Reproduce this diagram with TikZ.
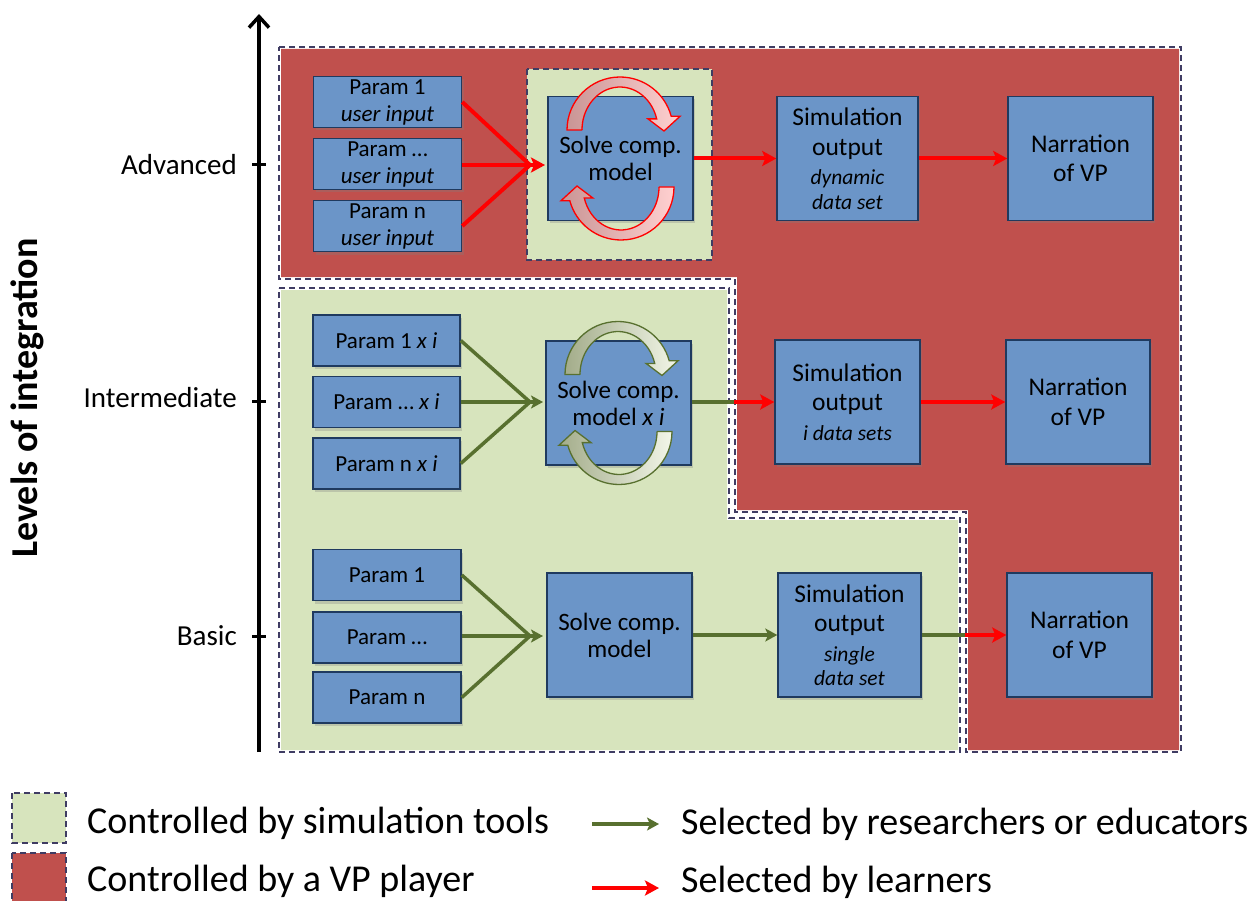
\documentclass[tikz,border=0pt]{standalone}
\usepackage{fontspec}
\setmainfont{Carlito}
\usetikzlibrary{arrows.meta,shadows}
\definecolor{regred}{HTML}{C0504D}
\definecolor{reggreen}{HTML}{D7E4BD}
\definecolor{boxblue}{HTML}{6B95C8}
\definecolor{boxline}{HTML}{1F3A5F}
\definecolor{dashc}{HTML}{3F3C63}
\definecolor{olivec}{HTML}{58702F}
\definecolor{arrred}{HTML}{FF0000}
\definecolor{pinkdark}{HTML}{C99595}
\definecolor{pinklight}{HTML}{FFD0D0}
\definecolor{olivedark}{HTML}{A3AC8A}
\definecolor{olivelight}{HTML}{F2F6E8}

\tikzset{
  blk/.style={draw=boxline, line width=1.5pt, fill=boxblue, align=center, inner sep=0pt,
    drop shadow={shadow xshift=2pt, shadow yshift=-3pt, opacity=0.3}},
  pblk/.style={blk, minimum width=148pt, minimum height=51pt, font=\fontsize{23}{27}\selectfont},
  bblk/.style={blk, minimum width=145pt, minimum height=124pt, font=\fontsize{25.5}{29.5}\selectfont},
  halo/.style={draw=white, line width=5pt},
  dashb/.style={draw=dashc, line width=1.6pt, dash pattern=on 6pt off 4pt},
  redarrow/.style={draw=arrred, line width=4pt, -{Stealth[length=14pt,width=15pt,inset=3pt]}},
  redline/.style={draw=arrred, line width=4pt},
  grarrow/.style={draw=olivec, line width=3.5pt, -{Stealth[length=12pt,width=13pt,inset=3pt]}},
  grline/.style={draw=olivec, line width=3.5pt},
  lvl/.style={font=\fontsize{29}{33}\selectfont, anchor=east, inner sep=0pt},
  legtext/.style={font=\fontsize{38}{42}\selectfont, anchor=base west, inner sep=0pt},
}

\newcommand\cycarr[5]{%
  \begin{scope}[shift={(#1)}, rotate=#2]
    \path[draw=#3, line width=1.3pt, left color=#4, right color=#5]
      (-38,0) -- (-53,0) arc[start angle=180, end angle=15, x radius=53, y radius=53]
      -- (60,13.7) -- (44,-1) -- (28,11.1) -- (36.7,11.1)
      arc[start angle=15, end angle=180, x radius=38, y radius=43] -- cycle;
  \end{scope}}

\begin{document}
\begin{tikzpicture}[x=1pt, y=1pt]
\useasboundingbox (0,0) rectangle (1249,-901);

% regions
\fill[regred] (279,-47) -- (1181,-47) -- (1181,-752) -- (966,-752) -- (966,-512) -- (735,-512) -- (735,-279) -- (279,-279) -- cycle;
\fill[reggreen] (279,-288) -- (729,-288) -- (729,-518) -- (960,-518) -- (960,-752) -- (279,-752) -- cycle;
\path[halo] (279,-47) -- (1181,-47) -- (1181,-752) -- (966,-752) -- (966,-512) -- (735,-512) -- (735,-279) -- (279,-279) -- cycle;
\path[halo] (279,-288) -- (729,-288) -- (729,-518) -- (960,-518) -- (960,-752) -- (279,-752) -- cycle;
\fill[regred] (281,-49) -- (1179,-49) -- (1179,-750) -- (968,-750) -- (968,-510) -- (737,-510) -- (737,-277) -- (281,-277) -- cycle;
\fill[reggreen] (281,-290) -- (727,-290) -- (727,-520) -- (958,-520) -- (958,-750) -- (281,-750) -- cycle;
\path[dashb] (279,-47) -- (1181,-47) -- (1181,-752) -- (966,-752) -- (966,-512) -- (735,-512) -- (735,-279) -- (279,-279) -- cycle;
\path[dashb] (279,-288) -- (729,-288) -- (729,-518) -- (960,-518) -- (960,-752) -- (279,-752) -- cycle;
% small green box
\fill[reggreen] (527,-69) rectangle (712,-260);
\path[dashb] (527,-69) rectangle (712,-260);

% axis
\coordinate (axb) at (259,-752);
\coordinate (axt) at (259,-14);
\draw[line width=3.5pt, -{Straight Barb[length=11pt,width=20pt]}] (axb) -- (axt);
\draw[line width=3pt] (252,-165) -- (266,-165);
\draw[line width=3pt] (252,-401) -- (266,-401);
\draw[line width=3pt] (252,-636) -- (266,-636);
\node[lvl] (ladv) at (237,-165) {Advanced};
\node[lvl] (lint) at (237,-398) {Intermediate};
\node[lvl] (lbas) at (237,-636) {Basic};
\node[rotate=90, font=\fontsize{38}{42}\selectfont\bfseries, inner sep=0pt] (ylab) at (27,-398) {Levels of integration};

% advanced row
\node[pblk] (p1a) at (387.5,-102) {Param 1\\\textit{user input}};
\node[pblk] (p2a) at (387.5,-164) {Param …\\\textit{user input}};
\node[pblk] (p3a) at (387.5,-226) {Param n\\\textit{user input}};
\node[bblk, font=\fontsize{25}{27}\selectfont] (solvea) at (620.5,-158.5) {Solve comp.\\model};
\node[bblk, minimum width=141pt] (sima) at (847.5,-158.5) {Simulation\\output\\{\fontsize{21.5}{24}\selectfont\itshape dynamic}\\[-5pt]{\fontsize{21.5}{24}\selectfont\itshape data set}};
\node[bblk] (narra) at (1080.5,-158.5) {Narration\\of VP};

% intermediate row
\node[pblk, minimum width=147pt] (p1i) at (386.5,-340.5) {Param 1 \textit{x i}};
\node[pblk, minimum width=147pt] (p2i) at (386.5,-402) {Param … \textit{x i}};
\node[pblk, minimum width=147pt] (p3i) at (386.5,-463.5) {Param n \textit{x i}};
\node[bblk, font=\fontsize{25}{27}\selectfont] (solvei) at (618.5,-403) {Solve comp.\\model \textit{x i}};
\node[bblk] (simi) at (847.5,-402) {Simulation\\output\\{\fontsize{21.5}{24}\selectfont\itshape i data sets}};
\node[bblk, minimum width=144pt] (narri) at (1078,-402) {Narration\\of VP};

% basic row
\node[pblk] (p1b) at (387,-575) {Param 1};
\node[pblk] (p2b) at (387,-637.5) {Param …};
\node[pblk] (p3b) at (387,-697.5) {Param n};
\node[bblk, font=\fontsize{25}{27}\selectfont] (solveb) at (619.5,-635) {Solve comp.\\model};
\node[bblk, minimum width=143pt] (simb) at (849.5,-635) {Simulation\\output\\{\fontsize{21.5}{24}\selectfont\itshape single}\\[-5pt]{\fontsize{21.5}{24}\selectfont\itshape data set}};
\node[bblk] (narrb) at (1079.5,-635) {Narration\\of VP};

% cycle arrows
\cycarr{620,-130}{0}{arrred}{pinkdark}{pinklight}
\cycarr{621,-187}{180}{arrred}{pinkdark}{pinklight}
\cycarr{618,-374.5}{0}{olivec}{olivedark}{olivelight}
\cycarr{619,-431.5}{180}{olivec}{olivedark}{olivelight}

% connectors advanced
\coordinate (ja) at (530,-165);
\coordinate (ta) at (545,-165);
\draw[redline] (p1a.east) -- (ja);
\draw[redline] (p3a.east) -- (ja);
\draw[redarrow] (p2a.east |- ta) -- (ta);
\draw[redarrow] (solvea.east) -- (sima.west);
\draw[redarrow] (sima.east) -- (narra.west);

% connectors intermediate
\coordinate (ji) at (530,-402);
\coordinate (ti) at (543,-402);
\draw[grline] (p1i.east) -- (ji);
\draw[grline] (p3i.east) -- (ji);
\draw[grarrow] (p2i.east) -- (ti);
\coordinate (mi) at (734,-402);
\draw[grline] (solvei.east |- mi) -- (mi);
\draw[redarrow] (mi) -- (simi.west |- mi);
\draw[redarrow] (simi.east) -- (narri.west);

% connectors basic
\coordinate (jb) at (530,-636);
\coordinate (tb) at (543,-636);
\draw[grline] (p1b.east) -- (jb);
\draw[grline] (p3b.east) -- (jb);
\draw[grarrow] (p2b.east |- tb) -- (tb);
\draw[grarrow] (solveb.east) -- (simb.west);
\coordinate (mb) at (965,-635);
\draw[grline] (simb.east) -- (mb);
\draw[redarrow] (mb) -- (narrb.west);

% legend
\fill[reggreen] (12,-793) rectangle (66,-843);
\path[dashb] (12,-793) rectangle (66,-843);
\fill[regred] (12,-853) rectangle (66,-906);
\path[dashb] (12,-853) rectangle (66,-906);
\node[legtext] (lg1) at (87,-833) {Controlled by simulation tools};
\node[legtext] (lg2) at (87,-891) {Controlled by a VP player};
\coordinate (ga1) at (592,-824);
\coordinate (ga2) at (659,-824);
\draw[grarrow] (ga1) -- (ga2);
\coordinate (ra1) at (592,-888);
\coordinate (ra2) at (659,-888);
\draw[redarrow] (ra1) -- (ra2);
\node[legtext] (lg3) at (681,-834) {Selected by researchers or educators};
\node[legtext] (lg4) at (681,-892) {Selected by learners};
\end{tikzpicture}
\end{document}
